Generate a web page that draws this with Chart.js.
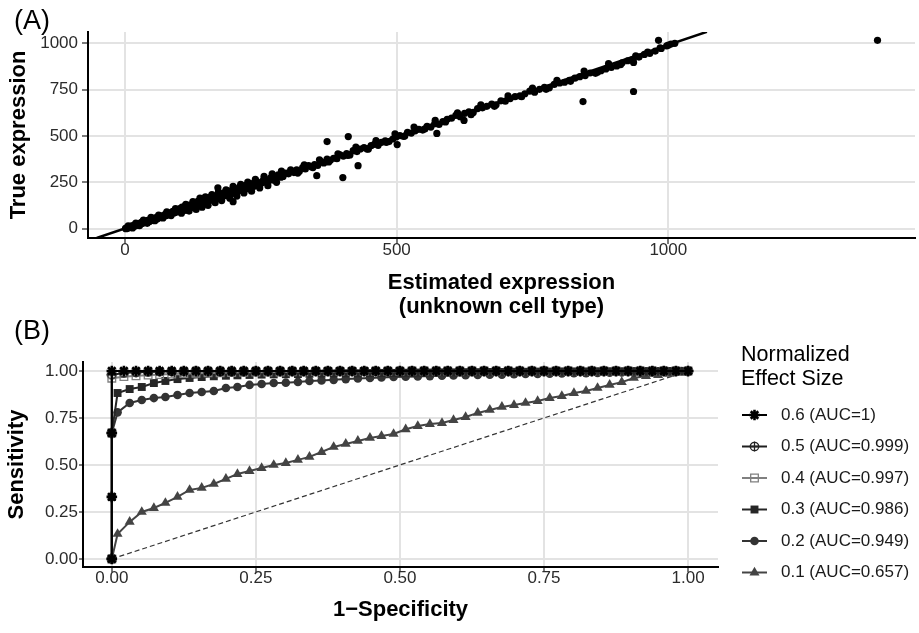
<!DOCTYPE html>
<html>
<head>
<meta charset="utf-8">
<script src="https://cdn.jsdelivr.net/npm/chart.js@4.4.0/dist/chart.umd.min.js"></script>
<style>
  html, body { margin: 0; padding: 0; background: #fff; }
  #wrapA { position: absolute; left: 0; top: 0; width: 919px; height: 320px; }
  #wrapB { position: absolute; left: 0; top: 320px; width: 919px; height: 313px; }
</style>
</head>
<body>
<div id="wrapA"><canvas id="chartA"></canvas></div>
<div id="wrapB"><canvas id="chartB"></canvas></div>
<script>
// ---- panel A : estimated vs true expression ----
var estLow  = [1,2,3,4,5,6,7,8,9,10, 11,12,13,14,15,17,18,19,21,22, 24,25,27,28,30,31,33,35,36,38, 40,42,44,45,47,49,51,53,55,57, 59,61,63,65,67,69,72,74,76,78, 81,83,85,88,90,92,95,97,99];
var trueLow = [2,0,4,6,3,8,5,10,7,13, 9,11,16,12,14,20,15,17,25,19, 22,28,24,30,27,36,29,33,40,35, 37,45,41,39,52,44,47,56,49,60, 53,58,66,60,70,64,68,78,71,75, 86,79,83,94,85,88,101,91,96];

var estLow2  = [6,14,20,27,34,41,48,55,62,70, 77,85,93];
var trueLow2 = [16,4,30,17,46,29,61,43,74,58, 91,71,108];

var estMid  = [101,103,105,108,110,112,115,117,119,122, 124,127,129,131,134,136,139,141,144,146, 149,151,154,157,159,162,165,168,170,173, 176,179,182,185,188,191,194,197,200,204, 207,210,214,217,221,224,228,232,235,239, 243,247,251,255,260,264,268,273,277,282, 287,291,296];
var trueMid = [108,97,117,103,121,99,124,111,128,115, 120,138,122,126,147,129,133,152,138,141, 162,146,150,170,154,158,176,161,165,185, 170,177,194,178,183,204,188,190,208,197, 200,222,207,211,232,216,220,244,226,230, 254,238,245,264,250,258,275,262,268,290, 278,282,300];

var estWide  = [104,112,118,125,131,138,142,148,153,160, 166,172,178,186,193,199,206,213,219,226, 233,240,248,256,263,271,279,288];
var trueWide = [84,131,95,146,104,165,116,172,126,184, 140,199,152,210,165,228,176,240,193,251, 202,266,220,283,232,296,250,311];

var estUpper  = [301,306,311,316,321,327,332,338,343,349, 355,361,366,372,378,384,390,396,402,408, 414,420,427,433,440,446,453,459,466,472, 479,486,493,499,506,513,520,527,534,541, 548,556,563,570,578,585,593];
var trueUpper = [296,312,303,318,310,330,322,341,334,346, 342,362,355,376,369,380,378,398,392,405, 398,421,416,430,437,429,448,455,450,466, 474,470,484,495,502,498,520,516,528,536, 532,552,548,566,562,578,590];

var estUpper2  = [305,318,330,346,358,375,392,410,425,448, 462,481,497,515,532,552,571,590];
var trueUpper2 = [318,300,345,330,372,360,404,395,440,430, 475,466,512,500,548,538,585,576];

var estHigh  = [601,609,617,625,633,641,649,658,666,675, 683,692,700,709,718,727,736,745,754,763, 772,781,790,800,809,818,828,837,847,856, 866,876,885,895,905,915,925,935,946,956, 966,976,987,997,1005,1012];
var trueHigh = [596,611,604,622,630,627,648,652,660,672, 668,690,688,702,712,716,728,742,736,752, 762,760,778,786,790,800,812,820,826,840, 838,852,862,870,878,895,906,914,926,940, 946,958,972,986,996,1000];

var estHigh2  = [612,637,655,680,705,730,750,775,795,820, 845,870,890,912,940,962,985,1000];
var trueHigh2 = [625,615,668,660,716,712,758,752,800,795, 850,845,890,885,932,952,975,990];

var estOut  = [171,199,353,372,401,411,429,501,574,624,843,936,936,982,1385];
var trueOut = [221,146,286,470,276,497,340,454,514,584,686,740,897,1016,1016];

var fitX = [-52, 1071];
var fitY = [-50, 1062];
var xTicksA = [0, 500, 1000];
var yTicksA = [0, 250, 500, 750, 1000];

// ---- panel B : ROC curves ----
var fprStar = [0,0.021,0.042,0.063,0.083,0.104,0.125,0.146,0.167,0.188, 0.208,0.229,0.25,0.271,0.292,0.313,0.333,0.354,0.375,0.396, 0.417,0.438,0.458,0.479,0.5,0.521,0.542,0.563,0.583,0.604, 0.625,0.646,0.667,0.688,0.708,0.729,0.75,0.771,0.792,0.813, 0.833,0.854,0.875,0.896,0.917,0.938,0.958,0.979,1];
var fprGrid = [0.01,0.031,0.052,0.073,0.093,0.114,0.135,0.156,0.177,0.198, 0.218,0.239,0.26,0.281,0.302,0.323,0.343,0.364,0.385,0.406, 0.427,0.448,0.468,0.489,0.51,0.531,0.552,0.573,0.593,0.614, 0.635,0.656,0.677,0.698,0.718,0.739,0.76,0.781,0.802,0.823, 0.843,0.864,0.885,0.906,0.927,0.948,0.968,0.989];

// curves that sit on the star grid
var lead06 = [0, 0.33, 0.67];
var tpr06 = [1,1,1,1,1,1,1,1,1,1, 1,1,1,1,1,1,1,1,1,1, 1,1,1,1,1,1,1,1,1,1, 1,1,1,1,1,1,1,1,1,1, 1,1,1,1,1,1,1,1,1];
var lead05 = [0, 0.67];
var tpr05 = [0.98,0.99,0.993,0.995,0.997,0.998,0.999,1,1,1, 1,1,1,1,1,1,1,1,1,1, 1,1,1,1,1,1,1,1,1,1, 1,1,1,1,1,1,1,1,1,1, 1,1,1,1,1,1,1,1,1];
var lead04 = [0, 0.67];
var tpr04 = [0.962,0.97,0.975,0.978,0.981,0.984,0.986,0.988,0.99,0.991, 0.992,0.993,0.994,0.995,0.995,0.996,0.996,0.997,0.997,0.998, 0.998,0.998,0.999,0.999,0.999,1,1,1,1,1, 1,1,1,1,1,1,1,1,1,1, 1,1,1,1,1,1,1,1,1];
// curves on the shifted grid, closed at (1,1)
var lead03 = [0, 0.33, 0.67];
var tpr03 = [0.883,0.904,0.915,0.936,0.947,0.957,0.963,0.968,0.972,0.975, 0.977,0.979,0.981,0.982,0.983,0.984,0.985,0.986,0.987,0.988, 0.988,0.989,0.99,0.99,0.991,0.992,0.992,0.993,0.993,0.994, 0.994,0.995,0.995,0.996,0.996,0.997,0.997,0.998,0.998,0.998, 0.999,0.999,0.999,1,1,1,1,1];
var lead02 = [0, 0.33, 0.67];
var tpr02 = [0.78,0.83,0.846,0.856,0.862,0.872,0.883,0.888,0.894,0.91, 0.915,0.926,0.931,0.936,0.938,0.942,0.947,0.95,0.953,0.957, 0.96,0.963,0.966,0.968,0.97,0.971,0.973,0.975,0.976,0.978, 0.979,0.98,0.981,0.983,0.984,0.985,0.986,0.987,0.988,0.989, 0.99,0.991,0.992,0.993,0.995,0.996,0.998,1];
var lead01 = [0];
var tpr01 = [0.133,0.197,0.25,0.271,0.298,0.33,0.367,0.378,0.399,0.426, 0.452,0.468,0.484,0.5,0.51,0.527,0.543,0.569,0.596,0.612, 0.628,0.644,0.654,0.665,0.69,0.707,0.718,0.723,0.739,0.755, 0.777,0.793,0.809,0.819,0.83,0.84,0.856,0.867,0.883,0.894, 0.91,0.926,0.941,0.963,0.973,0.978,0.985,0.99];

var rocLabels = ['0.6 (AUC=1)', '0.5 (AUC=0.999)', '0.4 (AUC=0.997)', '0.3 (AUC=0.986)', '0.2 (AUC=0.949)', '0.1 (AUC=0.657)'];
var chanceX = [0, 1];
var chanceY = [0, 1];
var ticksB = [0, 0.25, 0.5, 0.75, 1];

var FONT = '"Liberation Sans", Arial, Helvetica, sans-serif';
Chart.defaults.font.family = FONT;
Chart.defaults.color = '#2b2b2b';
var gridColor = '#e3e3e3';

function pairs(xs, ys) {
  return xs.map(function(x, i) { return {x: x, y: ys[i]}; });
}
function curve(lead, xs, ys, closeEnd) {
  var pts = lead.map(function(v) { return {x: 0, y: v}; });
  xs.forEach(function(x, i) { pts.push({x: x, y: ys[i]}); });
  if (closeEnd) pts.push({x: 1, y: 1});
  return pts;
}

// circle with a plus inside (marker of the 0.5 curve)
var circlePlus = document.createElement('canvas');
circlePlus.width = 11; circlePlus.height = 11;
(function() {
  var c = circlePlus.getContext('2d');
  c.strokeStyle = '#222'; c.lineWidth = 1.3;
  c.beginPath(); c.arc(5.5, 5.5, 4.2, 0, Math.PI * 2); c.stroke();
  c.beginPath(); c.moveTo(5.5, 0.5); c.lineTo(5.5, 10.5); c.moveTo(0.5, 5.5); c.lineTo(10.5, 5.5); c.stroke();
})();

// small labels "(A)" / "(B)"
var panelLabel = {
  id: 'panelLabel',
  afterDraw: function(chart, args, opts) {
    var ctx = chart.ctx;
    ctx.save();
    ctx.font = '27px ' + FONT;
    ctx.fillStyle = '#000';
    ctx.textBaseline = 'middle';
    ctx.fillText(opts.text, opts.x, opts.y);
    ctx.restore();
  }
};

// ggplot-like legend on the right of panel B
var rocLegend = {
  id: 'rocLegend',
  afterDraw: function(chart, args, opts) {
    if (!opts.show) return;
    var ctx = chart.ctx;
    ctx.save();
    ctx.textBaseline = 'middle';
    ctx.fillStyle = '#000';
    ctx.font = '21.5px ' + FONT;
    opts.title.forEach(function(t, i) { ctx.fillText(t, opts.x, opts.titleY + i * opts.titleGap); });
    ctx.font = '17px ' + FONT;
    var n = 0;
    chart.data.datasets.forEach(function(ds) {
      if (!ds.label) return;
      var y = opts.itemY + n * opts.itemGap;
      n++;
      ctx.setLineDash([]);
      ctx.strokeStyle = ds.borderColor;
      ctx.lineWidth = ds.borderWidth;
      ctx.beginPath(); ctx.moveTo(opts.keyX, y); ctx.lineTo(opts.keyX + opts.keyW, y); ctx.stroke();
      ctx.fillStyle = ds.pointBackgroundColor;
      ctx.strokeStyle = ds.pointBorderColor;
      ctx.lineWidth = ds.pointBorderWidth;
      Chart.helpers.drawPoint(ctx, {pointStyle: ds.pointStyle, radius: ds.pointRadius, borderWidth: ds.pointBorderWidth, rotation: 0}, opts.keyX + opts.keyW / 2, y);
      ctx.fillStyle = '#1a1a1a';
      ctx.fillText(ds.label, opts.textX, y);
    });
    ctx.restore();
  }
};

var pointsA = pairs(estLow, trueLow).concat(
  pairs(estLow2, trueLow2),
  pairs(estMid, trueMid), pairs(estWide, trueWide),
  pairs(estUpper, trueUpper), pairs(estUpper2, trueUpper2),
  pairs(estHigh, trueHigh), pairs(estHigh2, trueHigh2),
  pairs(estOut, trueOut));

new Chart(document.getElementById('chartA'), {
  type: 'scatter',
  data: {
    datasets: [
      { type: 'line', data: pairs(fitX, fitY), borderColor: '#000', borderWidth: 2.5, pointRadius: 0, tension: 0 },
      { data: pointsA, backgroundColor: '#000', borderWidth: 0, pointRadius: 3.6 }
    ]
  },
  options: {
    responsive: true, maintainAspectRatio: false, animation: false, events: [],
    layout: { padding: { top: 32, right: 4, left: 0, bottom: 0 } },
    plugins: {
      legend: { display: false }, tooltip: { enabled: false },
      panelLabel: { text: '(A)', x: 14, y: 22 }
    },
    scales: {
      x: {
        type: 'linear', min: -68, max: 1454,
        afterBuildTicks: function(s) { s.ticks = xTicksA.map(function(v) { return {value: v}; }); },
        afterFit: function(s) { s.height = 82; },
        grid: { color: gridColor, lineWidth: 2, tickLength: 6, tickColor: '#333', tickWidth: 1.3 },
        border: { display: true, color: '#000', width: 2 },
        ticks: { font: { size: 17, lineHeight: 1 }, padding: -2, maxRotation: 0, callback: function(v) { return String(v); } },
        title: { display: true, text: ['Estimated expression', '(unknown cell type)'], color: '#000',
                 font: { size: 22, weight: 'bold', lineHeight: 1.1 }, padding: { top: 0, bottom: 1 } }
      },
      y: {
        type: 'linear', min: -50, max: 1061,
        afterBuildTicks: function(s) { s.ticks = yTicksA.map(function(v) { return {value: v}; }); },
        afterFit: function(s) { s.width = 88; },
        grid: { color: gridColor, lineWidth: 2, tickLength: 6, tickColor: '#333', tickWidth: 1.3 },
        border: { display: true, color: '#000', width: 2 },
        ticks: { font: { size: 17, lineHeight: 1 }, padding: 4, callback: function(v) { return String(v); } },
        title: { display: true, text: 'True expression', color: '#000',
                 font: { size: 22, weight: 'bold', lineHeight: 1 }, padding: { top: 8, bottom: 0 } }
      }
    }
  },
  plugins: [panelLabel]
});

// lower "order" is painted later, so the 0.6 stars end up on top
function rocSet(label, data, color, style, radius, fill, pbw, order) {
  return {
    label: label, data: data, showLine: true, tension: 0, order: order,
    borderColor: color, borderWidth: 2,
    pointStyle: style, pointRadius: radius,
    pointBackgroundColor: fill, pointBorderColor: color, pointBorderWidth: pbw
  };
}

new Chart(document.getElementById('chartB'), {
  type: 'scatter',
  data: {
    datasets: [
      rocSet(rocLabels[0], curve(lead06, fprStar, tpr06, false), '#000', 'star', 5.3, '#000', 2.6, 0),
      rocSet(rocLabels[1], curve(lead05, fprStar, tpr05, false), '#1f1f1f', circlePlus, 4.5, '#1f1f1f', 1.3, 1),
      rocSet(rocLabels[2], curve(lead04, fprStar, tpr04, false), '#808080', 'rect', 5.4, 'rgba(255,255,255,0)', 1.3, 2),
      rocSet(rocLabels[3], curve(lead03, fprGrid, tpr03, true), '#262626', 'rect', 5.6, '#262626', 0, 3),
      rocSet(rocLabels[4], curve(lead02, fprGrid, tpr02, true), '#333', 'circle', 4.3, '#333', 0, 4),
      rocSet(rocLabels[5], curve(lead01, fprGrid, tpr01, true), '#444', 'triangle', 5.8, '#444', 0, 5),
      { data: pairs(chanceX, chanceY), showLine: true, borderColor: '#333', borderWidth: 1.2, borderDash: [5, 3], pointRadius: 0, order: 6 }
    ]
  },
  options: {
    responsive: true, maintainAspectRatio: false, animation: false, events: [],
    layout: { padding: { top: 42, right: 201, left: 0, bottom: 0 } },
    plugins: {
      legend: { display: false }, tooltip: { enabled: false },
      panelLabel: { text: '(B)', x: 14, y: 12 },
      rocLegend: { show: true, title: ['Normalized', 'Effect Size'], x: 741, titleY: 35, titleGap: 24,
                   itemY: 95, itemGap: 31.5, keyX: 742, keyW: 25, textX: 781 }
    },
    scales: {
      x: {
        type: 'linear', min: -0.05, max: 1.052,
        afterBuildTicks: function(s) { s.ticks = ticksB.map(function(v) { return {value: v}; }); },
        afterFit: function(s) { s.height = 66; },
        grid: { color: gridColor, lineWidth: 2, tickLength: 5, tickColor: '#333', tickWidth: 1.3 },
        border: { display: true, color: '#000', width: 2 },
        ticks: { font: { size: 17, lineHeight: 1 }, padding: -2, maxRotation: 0, callback: function(v) { return v.toFixed(2); } },
        title: { display: true, text: '1\u2212Specificity', color: '#000',
                 font: { size: 22, weight: 'bold', lineHeight: 1 }, padding: { top: 0, bottom: 12 } }
      },
      y: {
        type: 'linear', min: -0.043, max: 1.048,
        afterBuildTicks: function(s) { s.ticks = ticksB.map(function(v) { return {value: v}; }); },
        afterFit: function(s) { s.width = 83; },
        grid: { color: gridColor, lineWidth: 2, tickLength: 4, tickColor: '#333', tickWidth: 1.3 },
        border: { display: true, color: '#000', width: 2 },
        ticks: { font: { size: 17, lineHeight: 1 }, padding: 1, callback: function(v) { return v.toFixed(2); } },
        title: { display: true, text: 'Sensitivity', color: '#000',
                 font: { size: 22, weight: 'bold', lineHeight: 1 }, padding: { top: 6, bottom: 0 } }
      }
    }
  },
  plugins: [panelLabel, rocLegend]
});
</script>
</body>
</html>
